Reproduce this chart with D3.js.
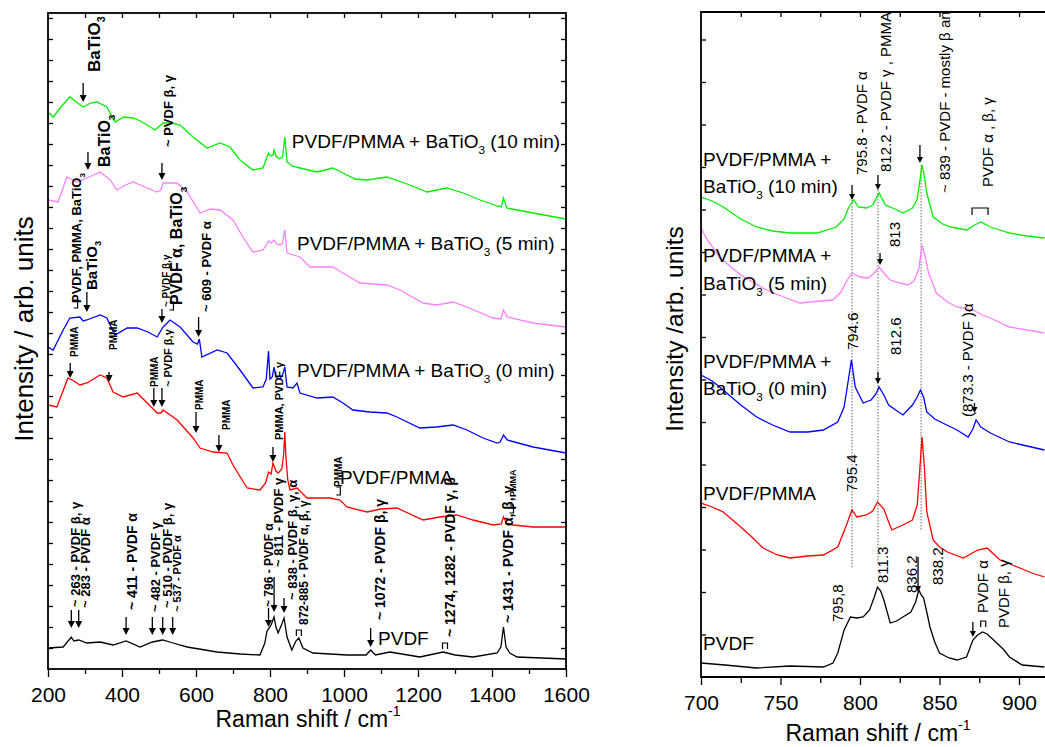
<!DOCTYPE html>
<html>
<head>
<meta charset="utf-8">
<script src="https://cdn.jsdelivr.net/npm/d3@7"></script>
<style>
  body { margin: 0; background: #fff; }
  text { font-family: "Liberation Sans", Arial, sans-serif; }
</style>
</head>
<body>
<svg id="chart" width="1045" height="747"></svg>
<script>
// ---- Spectra: [Raman shift (cm-1), intensity (arb.)] ----
const greenLeft = [[200,557],[214,552],[235,562],[259,572],[280,566],[295,562],[315,566],[332,567],[359,562],[381,547],[405,552],[430,551],[450,548],[468,544],[489,539],[511,546],[535,546],[557,544],[592,532],[630,521],[665,526],[692,522],[719,509],[754,499],[781,501],[792,512],[796,516],[802,513],[808,514],[811,519],[816,513],[826,510],[834,512],[840,532],[846,507],[860,503],[881,501],[927,497],[970,501],[997,496],[1030,490],[1062,489],[1116,492],[1178,484],[1224,477],[1278,481],[1322,476],[1368,469],[1414,463],[1425,462],[1431,471],[1440,461],[1511,456],[1600,450]];
const pinkLeft = [[200,469],[227,467],[240,480],[251,492],[278,487],[305,491],[341,497],[368,489],[386,479],[410,484],[430,487],[468,481],[495,477],[505,479],[511,486],[549,486],[576,477],[611,456],[640,460],[665,459],[700,449],[730,430],[754,417],[781,419],[792,425],[796,428],[803,426],[811,429],[818,425],[828,424],[834,426],[840,439],[846,416],[881,412],[908,402],[970,402],[997,396],[1043,386],[1080,385],[1116,384],[1151,379],[1214,366],[1250,364],[1295,367],[1332,362],[1403,351],[1424,350],[1431,359],[1441,352],[1511,346],[1600,342]];
const blueLeft = [[200,322],[214,319],[241,339],[259,351],[286,352],[295,348],[305,349],[341,354],[359,351],[381,334],[414,341],[441,341],[470,337],[495,332],[511,342],[530,349],[557,342],[592,327],[604,325],[609,330],[616,312],[657,319],[684,316],[719,299],[754,281],[781,282],[790,290],[796,318],[800,290],[806,292],[811,302],[816,292],[826,290],[834,294],[840,302],[846,282],[862,281],[873,286],[881,276],[927,271],[970,272],[997,266],[1024,259],[1070,257],[1116,256],[1143,252],[1205,241],[1250,242],[1295,244],[1332,239],[1376,231],[1414,226],[1422,227],[1431,234],[1441,229],[1511,222],[1600,216]];
const redLeft = [[200,264],[224,262],[254,291],[270,288],[286,284],[305,286],[341,294],[359,291],[376,277],[403,272],[441,276],[468,266],[495,256],[505,256],[511,259],[549,249],[592,231],[611,221],[646,217],[684,216],[700,204],[738,181],[773,179],[788,186],[796,197],[803,195],[808,206],[816,198],[822,196],[832,200],[837,215],[840,237],[843,212],[848,189],[854,179],[873,181],[900,171],[962,171],[989,169],[1008,162],[1062,157],[1100,160],[1143,161],[1214,149],[1259,152],[1305,154],[1349,149],[1403,144],[1425,145],[1431,152],[1440,146],[1457,144],[1511,142],[1600,142]];
const blackLeft = [[200,21],[241,22],[263,32],[270,28],[283,29],[305,26],[341,27],[376,24],[411,28],[449,22],[482,27],[510,29],[538,26],[576,22],[657,17],[720,15],[773,14],[786,26],[792,38],[798,41],[804,45],[811,52],[816,42],[822,36],[832,45],[838,51],[846,32],[859,19],[870,28],[878,31],[889,21],[916,16],[1008,14],[1060,14],[1072,19],[1085,14],[1124,17],[1205,12],[1268,17],[1300,14],[1349,12],[1414,16],[1424,22],[1431,42],[1438,22],[1448,16],[1468,12],[1600,10]];

const greenRight = [[700,480],[707,476],[714,470],[725,458],[735,450],[745,446],[756,444],[773,444],[785,450],[790,458],[793,470],[796,477],[799,470],[804,469],[808,472],[812,484],[816,472],[822,468],[827,464],[833,469],[836,478],[838,500],[839,512],[840,505],[842,484],[846,460],[852,453],[857,450],[867,447],[872,452],[876,455],[882,450],[888,447],[894,444],[905,441],[916,439]];
const pinkRight = [[700,449],[704,437],[712,419],[725,402],[741,387],[752,380],[762,374],[775,376],[783,377],[788,385],[792,397],[795,404],[800,400],[805,399],[809,404],[812,410],[816,402],[819,397],[825,394],[830,392],[834,396],[837,408],[839,432],[841,420],[843,405],[848,384],[855,375],[861,370],[871,367],[877,362],[882,359],[894,350],[905,347],[916,344]];
const blueRight = [[700,302],[707,296],[714,287],[725,272],[735,260],[745,252],[756,245],[767,245],[777,247],[786,255],[790,270],[792,290],[794.6,317],[797,290],[802,274],[807,277],[810,283],[812,290],[815,282],[818,272],[827,262],[833,272],[836,280],[838,287],[840,280],[842,265],[847,258],[852,254],[861,247],[868,240],[871,248],[873,257],[876,250],[882,244],[894,235],[905,231],[916,227]];
const redRight = [[700,174],[707,170],[714,165],[725,150],[732,140],[739,129],[748,122],[756,119],[767,121],[777,122],[786,130],[791,150],[795,167],[798,160],[804,162],[808,166],[811,175],[815,168],[818,155],[820,147],[827,152],[833,157],[836,172],[837.5,205],[839,240],[840.5,210],[842,165],[846,137],[850,130],[855,125],[865,119],[874,127],[880,129],[888,117],[899,110],[908,104],[916,100]];
const blackRight = [[700,14],[715,12],[735,9],[756,11],[777,10],[783,14],[786,24],[790,47],[794,60],[798,59],[802,60],[806,67],[809,80],[811,90],[813,86],[815,77],[819,54],[823,56],[827,60],[832,65],[835,75],[837,87],[838.5,82],[840,79],[842,65],[844,50],[847,35],[850,24],[856,19],[861,17],[867,20],[871,37],[874,42],[877,45],[880,43],[886,34],[890,28],[894,20],[902,12],[916,10]];

const seriesColors = ['#00ee00', '#ff80ff', '#0000ff', '#ff0000', '#000000'];

// tick labels
const leftTicks = [200, 400, 600, 800, 1000, 1200, 1400, 1600];
const rightTicks = [700, 750, 800, 850, 900];

// curve names [x, y, text]
const leftNames = [[859,521,'PVDF/PMMA + BaTiO_3 (10 min)'],[873,419,'PVDF/PMMA + BaTiO_3 (5 min)'],[873,292,'PVDF/PMMA + BaTiO_3 (0 min)'],[989,185,'PVDF/PMMA'],[1092,24,'PVDF']];
const rightNames = [[701.3,511,'PVDF/PMMA +'],[701.3,484,'BaTiO_3 (10 min)'],[701.3,415,'PVDF/PMMA +'],[701.3,387,'BaTiO_3 (5 min)'],[701.3,309,'PVDF/PMMA +'],[701.3,282,'BaTiO_3 (0 min)'],[701.3,177,'PVDF/PMMA'],[701.3,27,'PVDF']];

// band assignments (vertical text) [x, y, size, text]
const leftNotes = [
  [341,597,17,'BaTiO_3'],[368,502,16,'BaTiO_3'],[538,522,13,'~ PVDF β, γ'],
  [289,366,13,'PVDF, PMMA, BaTiO_3'],[332,379,15,'BaTiO_3'],[562,364,16,'PVDF α, BaTiO_3'],
  [530,362,10,'~ PVDF β,γ'],[640,357,13,'~ 609 - PVDF α'],
  [281,312,10,'PMMA'],[386,319,10,'PMMA'],[497,282,10,'PMMA'],[535,282,11,'~ PVDF β,γ'],
  [619,259,10,'PMMA'],[692,239,10,'PMMA'],[835,229,11,'PMMA, PVDF γ'],
  [286,62,13,'~ 263 - PVDF β, γ'],[314,61,13,'~ 283 - PVDF α'],[441,59,14,'~ 411 - PVDF α'],
  [503,57,13,'~ 482 - PVDF γ'],[535,61,13,'~ 510 - PVDF β, γ'],[559,57,11,'~ 537 - PVDF α'],
  [808,62,12,'~ 796 - PVDF α'],[835,102,13,'~ 811 - PVDF γ'],[873,69,13,'~ 838 - PVDF β, γ, α'],
  [903,44,12,'872-885 - PVDF α, β, γ'],[1112,49,14,'~ 1072 - PVDF β, γ'],
  [1300,32,14,'~ 1274, 1282 - PVDF γ, β'],[1457,46,14,'~ 1431 - PVDF α, β, γ'],
  [1464,172,9,'PMMA'],[995,182,10,'PMMA']
];
const rightNotes = [
  [804.4,502,'795.8 - PVDF α'],[819.5,505,'812.2 - PVDF γ , PMMA'],[856.6,484,'~ 839 - PVDF - mostly β an'],
  [883.7,490,'PVDF α , β, γ'],[825,430,'813'],[798.7,327,'794.6'],[826,322,'812.6'],
  [871,260,'(873.3 - PVDF )α'],[798,185,'795.4'],[817.6,94,'811.3'],[836,84,'836.2'],
  [852,92,'838.2'],[789,55,'795,8'],[880.5,64,'PVDF α'],[894,49,'PVDF β, γ']
];

// arrows [x, from, to]
const leftArrows = [[295,586,567],[308,517,499],[508,506,489],[305,377,357],[508,360,346],[607,352,332],
  [260,306,291],[365,297,287],[486,281,262],[508,281,262],[600,257,236],[662,234,217],[808,222,207],
  [263,59,41],[283,59,41],[411,52,34],[482,52,34],[510,52,34],[537,52,34],[796,61,42],[811,92,57],
  [838,71,56],[1072,41,22]];
const rightArrows = [[795,492,477],[811.3,502,487],[837.7,532,514],[812.6,424,412],[811.3,305,293],
  [872,274,264],[836.5,120,85],[871,55,40]];
const rightGuides = [[795,477,109],[811.3,487,114],[838.4,512,147]];

// brackets [x, y, kind]
const leftBrackets = [[276,365,'r'],[535,363,'r'],[986,178,'r'],[878,36,'n'],[1273,23,'n'],[1454,160,'r']];
const rightBrackets = [[875.5,466,'w'],[877.5,53,'n']];

const svg = d3.select('#chart');
const FONT = '"Liberation Sans", Arial, sans-serif';

// text with subscripts written as _3
function richText(sel, str, size) {
    const shift = size * 0.3;
    str.split(/_(\d)/).forEach((p, i) => {
        if (!p) return;
        if (i % 2 === 1) {
            sel.append('tspan').attr('font-size', size * 0.62).attr('dy', shift).text(p);
        } else {
            const t = sel.append('tspan').text(p);
            if (i > 0) t.attr('dy', -shift);
        }
    });
}

function vText(g, x, y, d, size, weight) {
    const t = g.append('text')
        .attr('transform', `translate(${x(d[0])},${y(d[1])}) rotate(-90)`)
        .attr('font-size', size)
        .attr('font-weight', weight);
    richText(t, d[d.length - 1], size);
}

function arrow(g, x, y, d, head) {
    const px = x(d[0]), y1 = y(d[1]), y2 = y(d[2]);
    g.append('line').attr('x1', px).attr('x2', px).attr('y1', y1).attr('y2', y2 - head)
        .attr('stroke', '#000').attr('stroke-width', 1.3);
    g.append('path')
        .attr('d', `M${px - head / 2},${y2 - head}L${px + head / 2},${y2 - head}L${px},${y2}Z`)
        .attr('fill', '#000');
}

function bracket(g, x, y, d) {
    const px = x(d[0]), py = y(d[1]);
    let p;
    if (d[2] === 'r') p = `M${px - 2.5},${py - 4}H${px + 1.5}V${py + 4}H${px - 2.5}`;
    else if (d[2] === 'n') p = `M${px - 2.5},${py + 3}V${py - 3}H${px + 2.5}V${py + 3}`;
    else p = `M${px - 8},${py + 4}V${py - 3}H${px + 8}V${py + 4}`;
    g.append('path').attr('d', p).attr('fill', 'none').attr('stroke', '#000').attr('stroke-width', 1.2);
}

function styleAxis(g, size) {
    g.attr('font-family', FONT).attr('font-size', size);
    g.select('.domain').remove();
    g.selectAll('line').attr('stroke-width', 1.3);
}

// ================= Left panel =================
const xL = d3.scaleLinear().domain([200, 1600]).range([48, 566]);
const yL = d3.scaleLinear().domain([0, 656]).range([669, 13]);
const gL = svg.append('g');

svg.append('clipPath').attr('id', 'clipL').append('rect')
    .attr('x', 48).attr('y', 13).attr('width', 518).attr('height', 656);

const lineL = d3.line().x(d => xL(d[0])).y(d => yL(d[1]));
[greenLeft, pinkLeft, blueLeft, redLeft, blackLeft].forEach((s, i) => {
    gL.append('path').datum(s).attr('d', lineL)
        .attr('clip-path', 'url(#clipL)')
        .attr('fill', 'none').attr('stroke', seriesColors[i]).attr('stroke-width', 1.3);
});

// axes
gL.append('g').attr('transform', 'translate(0,669)')
    .call(d3.axisBottom(xL).tickValues(leftTicks).tickSize(8).tickPadding(10).tickFormat(d3.format('d')))
    .call(g => styleAxis(g, 21));
gL.append('g').attr('transform', 'translate(0,669)')
    .call(d3.axisBottom(xL).tickValues(d3.range(300, 1600, 200)).tickSize(5).tickFormat(''))
    .call(g => styleAxis(g, 10));
gL.append('g').attr('transform', 'translate(0,13)')
    .call(d3.axisBottom(xL).tickValues(d3.range(300, 1600, 100)).tickSize(5).tickFormat(''))
    .call(g => styleAxis(g, 10));
gL.append('g').attr('transform', 'translate(48,0)')
    .call(d3.axisRight(yL).tickValues(d3.range(21, 656, 21)).tickSize(5).tickFormat(''))
    .call(g => styleAxis(g, 10));
gL.append('g').attr('transform', 'translate(566,0)')
    .call(d3.axisLeft(yL).tickValues(d3.range(21, 656, 21)).tickSize(5).tickFormat(''))
    .call(g => styleAxis(g, 10));
gL.append('rect').attr('x', 48).attr('y', 13).attr('width', 518).attr('height', 656)
    .attr('fill', 'none').attr('stroke', '#000').attr('stroke-width', 1.8);

// labels
leftNames.forEach(d => {
    const t = gL.append('text').attr('x', xL(d[0])).attr('y', yL(d[1])).attr('font-size', 19);
    richText(t, d[2], 19);
});
leftNotes.forEach(d => vText(gL, xL, yL, d, d[2], 'bold'));
leftArrows.forEach(d => arrow(gL, xL, yL, d, 7));
leftBrackets.forEach(d => bracket(gL, xL, yL, d));

gL.append('text').attr('transform', 'translate(33,329) rotate(-90)')
    .attr('text-anchor', 'middle').attr('font-size', 26).text('Intensity / arb. units');
const tL = gL.append('text').attr('x', 308).attr('y', 727).attr('text-anchor', 'middle').attr('font-size', 23);
tL.append('tspan').text('Raman shift / cm');
tL.append('tspan').attr('font-size', 14).attr('dy', -11).text('-1');

// ================= Right panel =================
const xR = d3.scaleLinear().domain([700, 920]).range([701, 1050.8]);
const yR = d3.scaleLinear().domain([0, 665]).range([677, 12]);
const gR = svg.append('g');

svg.append('clipPath').attr('id', 'clipR').append('rect')
    .attr('x', 701).attr('y', 12).attr('width', 350).attr('height', 665);

rightGuides.forEach(d => {
    gR.append('line').attr('x1', xR(d[0])).attr('x2', xR(d[0])).attr('y1', yR(d[1])).attr('y2', yR(d[2]))
        .attr('stroke', '#666').attr('stroke-width', 1).attr('stroke-dasharray', '1.5,1.5');
});

const lineR = d3.line().x(d => xR(d[0])).y(d => yR(d[1]));
[greenRight, pinkRight, blueRight, redRight, blackRight].forEach((s, i) => {
    gR.append('path').datum(s).attr('d', lineR)
        .attr('clip-path', 'url(#clipR)')
        .attr('fill', 'none').attr('stroke', seriesColors[i]).attr('stroke-width', 1.3);
});

gR.append('g').attr('transform', 'translate(0,677)')
    .call(d3.axisBottom(xR).tickValues(rightTicks).tickSize(8).tickPadding(10).tickFormat(d3.format('d')))
    .call(g => styleAxis(g, 21));
gR.append('g').attr('transform', 'translate(0,677)')
    .call(d3.axisBottom(xR).tickValues(d3.range(725, 920, 50)).tickSize(6).tickFormat(''))
    .call(g => styleAxis(g, 10));
gR.append('g').attr('transform', 'translate(0,12)')
    .call(d3.axisBottom(xR).tickValues(d3.range(725, 920, 25)).tickSize(5).tickFormat(''))
    .call(g => styleAxis(g, 10));
gR.append('g').attr('transform', 'translate(701,0)')
    .call(d3.axisRight(yR).tickValues(d3.range(42.5, 665, 42.5)).tickSize(5).tickFormat(''))
    .call(g => styleAxis(g, 10));
gR.append('path').attr('d', `M1050,12H701V677H1050`)
    .attr('fill', 'none').attr('stroke', '#000').attr('stroke-width', 1.8);

rightNames.forEach(d => {
    const t = gR.append('text').attr('x', xR(d[0])).attr('y', yR(d[1])).attr('font-size', 19);
    richText(t, d[2], 19);
});
rightNotes.forEach(d => vText(gR, xR, yR, d, 15, 'normal'));
rightArrows.forEach(d => arrow(gR, xR, yR, d, 6));
rightBrackets.forEach(d => bracket(gR, xR, yR, d));

gR.append('text').attr('transform', 'translate(683,329) rotate(-90)')
    .attr('text-anchor', 'middle').attr('font-size', 24.5).text('Intensity /arb. units');
const tR = gR.append('text').attr('x', 878).attr('y', 741).attr('text-anchor', 'middle').attr('font-size', 23);
tR.append('tspan').text('Raman shift / cm');
tR.append('tspan').attr('font-size', 14).attr('dy', -11).text('-1');
</script>
</body>
</html>
